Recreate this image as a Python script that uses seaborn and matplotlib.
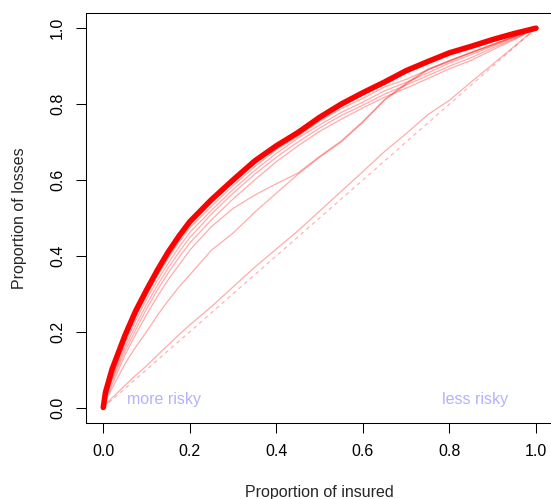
import numpy as np
import pandas as pd
import matplotlib
matplotlib.use("Agg")
import matplotlib.pyplot as plt
import seaborn as sns

sns.set_style("ticks")
plt.rcParams['font.family'] = ['Liberation Sans', 'DejaVu Sans']

# proportion of insured (x) shared by every concentration curve
insured = [0, 0.005, 0.02, 0.05, 0.075, 0.1, 0.125, 0.15, 0.175, 0.2, 0.25, 0.3,
           0.35, 0.4, 0.45, 0.5, 0.55, 0.6, 0.65, 0.7, 0.75, 0.8, 0.85, 0.9, 0.95, 1.0]

# main (thick) curve
losses_main = [0, 0.04, 0.1, 0.19, 0.255, 0.31, 0.362, 0.41, 0.452, 0.49, 0.548, 0.60,
               0.65, 0.69, 0.725, 0.765, 0.80, 0.83, 0.858, 0.888, 0.912, 0.935, 0.952,
               0.97, 0.986, 1.0]
# thin curves bundled under the main one
losses_b1 = [0, 0.035, 0.09, 0.178, 0.24, 0.295, 0.347, 0.393, 0.436, 0.474, 0.53, 0.585,
             0.635, 0.68, 0.715, 0.755, 0.788, 0.815, 0.845, 0.865, 0.89, 0.915, 0.935,
             0.957, 0.978, 1.0]
losses_b2 = [0, 0.03, 0.08, 0.168, 0.23, 0.285, 0.335, 0.38, 0.423, 0.462, 0.52, 0.575,
             0.625, 0.67, 0.71, 0.745, 0.778, 0.805, 0.835, 0.857, 0.882, 0.908, 0.93,
             0.953, 0.975, 1.0]
losses_b3 = [0, 0.028, 0.075, 0.158, 0.217, 0.272, 0.322, 0.368, 0.41, 0.448, 0.51, 0.565,
             0.615, 0.66, 0.70, 0.737, 0.77, 0.797, 0.826, 0.85, 0.875, 0.90, 0.922,
             0.948, 0.972, 1.0]
losses_b4 = [0, 0.025, 0.07, 0.148, 0.205, 0.26, 0.31, 0.355, 0.396, 0.434, 0.495, 0.55,
             0.60, 0.648, 0.69, 0.728, 0.76, 0.79, 0.818, 0.842, 0.867, 0.893, 0.915,
             0.943, 0.97, 1.0]
# two intermediate curves that meet around x = 0.45
losses_c = [0, 0.022, 0.06, 0.138, 0.193, 0.245, 0.293, 0.337, 0.376, 0.415, 0.477, 0.525,
            0.56, 0.59, 0.618, 0.662, 0.703, 0.754, 0.812, 0.855, 0.892, 0.914, 0.937,
            0.957, 0.978, 1.0]
losses_d = [0, 0.018, 0.05, 0.115, 0.16, 0.2, 0.243, 0.282, 0.318, 0.35, 0.415, 0.46,
            0.515, 0.565, 0.615, 0.66, 0.70, 0.752, 0.81, 0.852, 0.89, 0.912, 0.935,
            0.955, 0.977, 1.0]
# curve close to the diagonal
losses_e = [0, 0.008, 0.025, 0.058, 0.085, 0.11, 0.138, 0.165, 0.192, 0.218, 0.266, 0.318,
            0.37, 0.418, 0.466, 0.518, 0.57, 0.622, 0.675, 0.722, 0.772, 0.81, 0.858,
            0.905, 0.952, 1.0]

diag = [0, 1]

fig = plt.figure(figsize=(5.51, 4.99), dpi=100)
ax = fig.add_axes([86 / 551, 1 - 422.7 / 499, (553.3 - 86) / 551, (422.7 - 13) / 499])

thin = dict(color="red", alpha=0.33, linewidth=0.9, sort=False, estimator=None,
            ax=ax, legend=False)
sns.lineplot(x=diag, y=diag, color="red", alpha=0.3, linewidth=0.9,
             linestyle=(0, (3, 3)), ax=ax, legend=False)
sns.lineplot(x=insured, y=losses_e, **thin)
sns.lineplot(x=insured, y=losses_d, **thin)
sns.lineplot(x=insured, y=losses_c, **thin)
for s in [losses_b4, losses_b3, losses_b2, losses_b1]:
    sns.lineplot(x=insured, y=s, **thin)
sns.lineplot(x=insured, y=losses_main, color="red", linewidth=4, sort=False,
             estimator=None, ax=ax, legend=False, solid_capstyle="round",
             solid_joinstyle="round")

ax.text(0.14, 0.02, "more risky", color="#b2b2ff", fontsize=11.5, ha="center", va="center")
ax.text(0.86, 0.02, "less risky", color="#b2b2ff", fontsize=11.5, ha="center", va="center")

ax.set_xlim(-0.04, 1.04)
ax.set_ylim(-0.04, 1.04)
ticks = [0.0, 0.2, 0.4, 0.6, 0.8, 1.0]
ax.set_xticks(ticks)
ax.set_yticks(ticks)
ax.set_xticklabels([f"{t:.1f}" for t in ticks])
ax.set_yticklabels([f"{t:.1f}" for t in ticks], rotation=90, va="center")
ax.tick_params(axis="both", direction="out", length=7.2, width=0.75, colors="black",
               labelsize=11.5)
ax.tick_params(axis="x", pad=8)
ax.tick_params(axis="y", pad=8)
for sp in ax.spines.values():
    sp.set_visible(True)
    sp.set_linewidth(0.75)
    sp.set_color("black")

ax.set_xlabel("Proportion of insured", fontsize=11.5, labelpad=18.5)
ax.set_ylabel("Proportion of losses", fontsize=11.5, labelpad=16.5)

fig.savefig("out.png", dpi=100)
